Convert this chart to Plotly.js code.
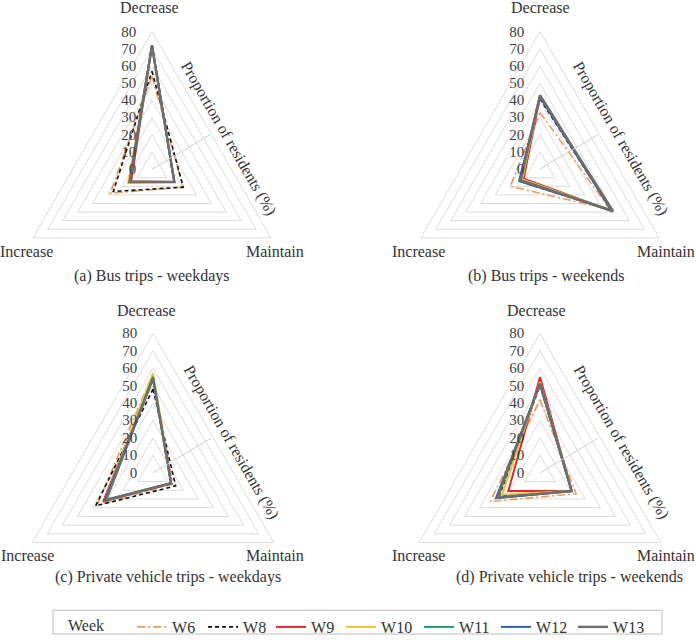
<!DOCTYPE html>
<html>
<head>
<meta charset="utf-8">
<script src="https://cdn.plot.ly/plotly-3.0.1.min.js"></script>
<style>html,body{margin:0;padding:0;background:#fff;}#chart{width:696px;height:644px;}</style>
</head>
<body>
<div id="chart"></div>
<script>
// ---- data ----
const categories = ['Decrease', 'Maintain', 'Increase'];
const weeks = ['W6', 'W8', 'W9', 'W10', 'W11', 'W12', 'W13'];
// values per week, order: Decrease, Maintain, Increase (% of residents)
const busWeekdays = [[54,21,28],[57,21,26],[72,15,14],[71,15,16],[72,15,15],[72,15,15],[72,15,15]];
const busWeekends = [[33,47,20],[41,48,14],[42,49,11],[43,48,12],[43,48,13],[42,48,14],[43,49,13]];
const carWeekdays = [[57,13,37],[48,15,38],[55,12,33],[57,12,32],[55,12,31],[54,12,32],[54,12,31]];
const carWeekends = [[42,24,33],[50,21,27],[55,21,21],[52,21,25],[51,21,29],[51,21,29],[51,21,28]];
const panelTitles = ['(a) Bus trips - weekdays', '(b) Bus trips - weekends',
  '(c) Private vehicle trips - weekdays', '(d) Private vehicle trips - weekends'];
const radialTitle = 'Proportion of residents (%)';
const radialTicks = [0,10,20,30,40,50,60,70,80];

// ---- styles ----
const colors = ['#EE9B5E', '#111111', '#E3262B', '#F2C230', '#1E9E6A', '#2F5FA5', '#6E6E6E'];
const dashes = ['8px,3px,2px,3px', '4px,3px', 'solid', 'solid', 'solid', 'solid', 'solid'];
const widths = [1.6, 1.6, 2, 2, 2, 2, 2.4];
const legendWidths = [26, 23, 25, 33, 32, 32, 32];
const FONT = '"Liberation Serif", "Times New Roman", serif';
const W = 696, H = 644;

const panels = [busWeekdays, busWeekends, carWeekdays, carWeekends];
const polarIds = ['polar', 'polar2', 'polar3', 'polar4'];
// panel centres / radius in px
const geo = [
  {cx:152, cy:171, R:139},
  {cx:540, cy:171, R:139},
  {cx:153, cy:478, R:141},
  {cx:540, cy:478, R:141}
];

const traces = [];
panels.forEach((panel, p) => {
  panel.forEach((vals, i) => {
    traces.push({
      type: 'scatterpolar',
      subplot: polarIds[p],
      name: weeks[i],
      legendgroup: weeks[i],
      legendwidth: legendWidths[i],
      showlegend: p === 0,
      mode: 'lines',
      r: vals.concat([vals[0]]),
      theta: categories.concat([categories[0]]),
      line: {color: colors[i], width: widths[i], dash: dashes[i]},
      hoverinfo: 'name+r+theta'
    });
  });
});

const layout = {
  width: W, height: H,
  margin: {l:0, r:0, t:0, b:0},
  paper_bgcolor: '#ffffff',
  font: {family: FONT, size: 16, color: '#333333'},
  showlegend: true,
  legend: {
    orientation: 'h', x: 66/W, xanchor: 'left', y: 1 - 617/H, yanchor: 'top',
    title: {text: 'Week&nbsp;&nbsp;&nbsp;&nbsp;&nbsp;', font: {family: FONT, size: 16, color: '#333333'}},
    font: {family: FONT, size: 16, color: '#333333'},
    bgcolor: 'rgba(0,0,0,0)', borderwidth: 0
  },
  annotations: [],
  shapes: [
    {type:'rect', xref:'paper', yref:'paper', x0:53/W, x1:662/W, y0:1-641/H, y1:1-617/H,
     line:{color:'#BFBFBF', width:1}, fillcolor:'rgba(0,0,0,0)'}
  ]
};

const catPos = [
  [{x:149,y:8},{x:275,y:254},{x:26,y:254}],
  [{x:540,y:8},{x:666,y:254},{x:418,y:254}],
  [{x:146,y:314},{x:275,y:562},{x:27,y:562}],
  [{x:536,y:314},{x:666,y:562},{x:418,y:562}]
];
const capPos = [{x:152,y:279},{x:546,y:279},{x:168,y:583},{x:569,y:583}];
const titlePos = [{x:228,y:140},{x:620,y:140},{x:231,y:447},{x:621,y:447}];

geo.forEach((g, p) => {
  layout[polarIds[p]] = {
    domain: {x: [(g.cx - g.R)/W, (g.cx + g.R)/W], y: [1 - (g.cy + g.R)/H, 1 - (g.cy - g.R)/H]},
    bgcolor: 'rgba(0,0,0,0)',
    gridshape: 'linear',
    radialaxis: {
      range: [0, 80], tickvals: radialTicks, angle: 90, side: 'counterclockwise', tickangle: 90,
      showline: false, ticks: 'outside', ticklen: 10, tickcolor: 'rgba(0,0,0,0)',
      gridcolor: '#DCDCDC', gridwidth: 1,
      tickfont: {family: FONT, size: 15, color: '#404040'}
    },
    angularaxis: {
      direction: 'clockwise', rotation: 90, showgrid: false, showticklabels: false,
      ticks: '', showline: true, linecolor: '#DCDCDC', linewidth: 1
    }
  };
  categories.forEach((c, k) => {
    layout.annotations.push({xref:'paper', yref:'paper', x: catPos[p][k].x/W, y: 1 - catPos[p][k].y/H,
      text: c, showarrow:false, xanchor:'center', yanchor:'middle',
      font:{family:FONT, size:16, color:'#333333'}});
  });
  layout.annotations.push({xref:'paper', yref:'paper', x: capPos[p].x/W, y: 1 - capPos[p].y/H,
    text: panelTitles[p], showarrow:false, xanchor:'center', yanchor:'middle',
    font:{family:FONT, size:16, color:'#333333'}});
  layout.annotations.push({xref:'paper', yref:'paper', x: titlePos[p].x/W, y: 1 - titlePos[p].y/H,
    text: radialTitle, textangle: 60, showarrow:false, xanchor:'center', yanchor:'middle',
    font:{family:FONT, size:16, color:'#333333'}});
  layout.shapes.push({type:'line', xref:'paper', yref:'paper', x0: g.cx/W, y0: 1 - g.cy/H,
    x1: (g.cx + 58)/W, y1: 1 - (g.cy - 35)/H, line:{color:'#D0D0D0', width:1}});
});

Plotly.newPlot('chart', traces, layout, {displayModeBar: false, staticPlot: true});
</script>
</body>
</html>
